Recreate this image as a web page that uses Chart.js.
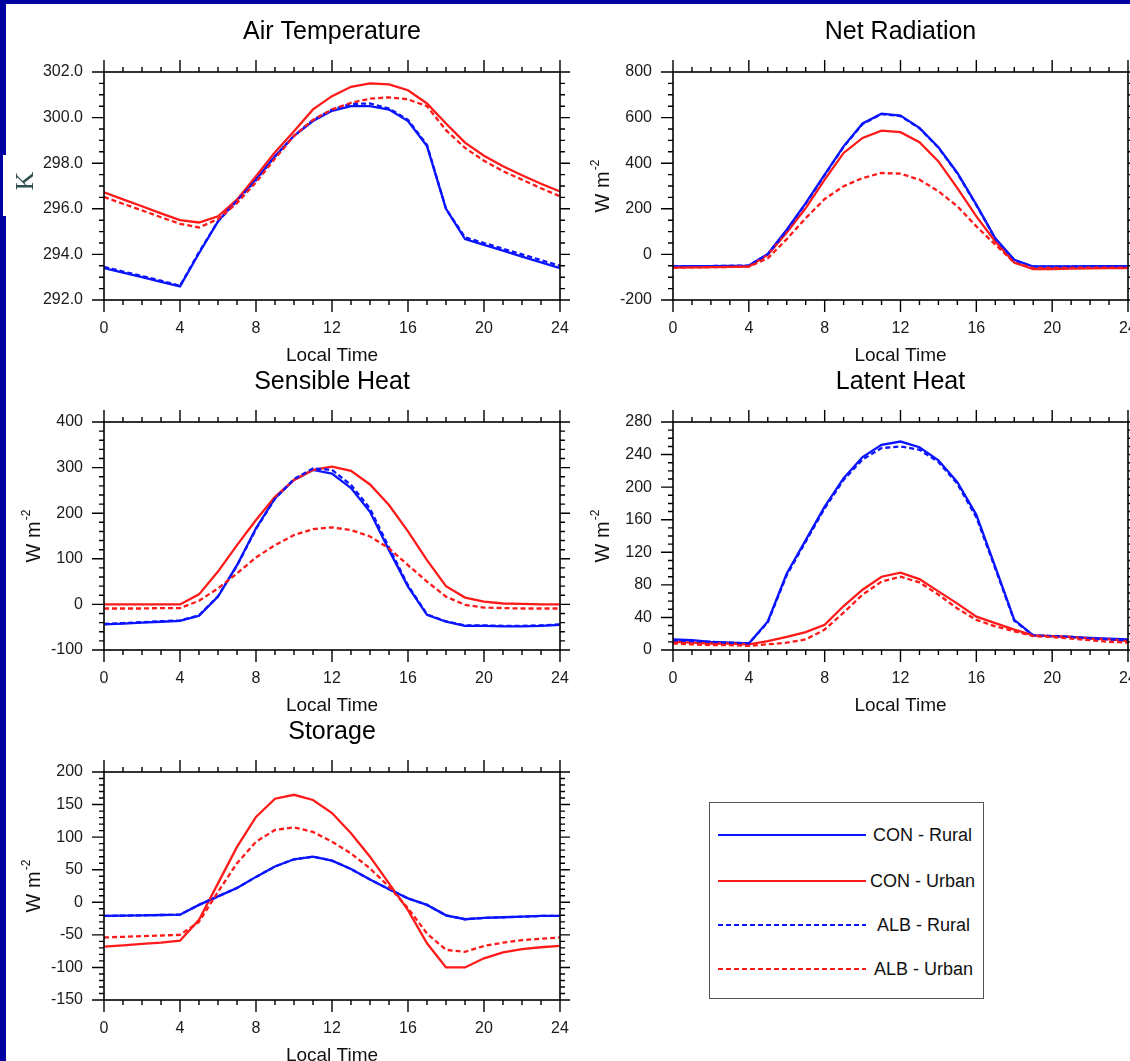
<!DOCTYPE html>
<html>
<head>
<meta charset="utf-8">
<script src="https://cdn.jsdelivr.net/npm/chart.js@4.4.1/dist/chart.umd.min.js"></script>
<style>
  html, body { margin: 0; padding: 0; background: #fff; }
  body { width: 1130px; height: 1061px; overflow: hidden; position: relative; font-family: "Liberation Sans", Arial, sans-serif; }
  canvas { position: absolute; }
  .strip { position: absolute; background: #0000a0; z-index: 5; }
  #kbox { position: absolute; left: 3px; top: 155px; width: 30px; height: 61px; background: #fff; z-index: 6; }
  #klabel { position: absolute; left: 25px; top: 181px; transform: translate(-50%, -50%) rotate(-90deg);
    font-family: "Liberation Serif", "DejaVu Serif", serif; font-size: 26px; color: #2f4f4f; z-index: 7; }
  #legend { position: absolute; left: 709px; top: 802px; width: 275px; height: 197px; border: 1.5px solid #555; box-sizing: border-box; }
  .row { position: absolute; left: 0; height: 20px; }
  .row svg { position: absolute; left: 8px; top: 0; }
  .row span { position: absolute; top: 0; line-height: 20px; font-size: 18px; color: #111; white-space: nowrap; }
</style>
</head>
<body>
<div class="strip" style="left:0;top:0;width:1130px;height:4px"></div>
<div class="strip" style="left:0;top:0;width:6px;height:1061px"></div>
<div id="kbox"></div>
<div id="klabel">K</div>

<canvas id="airChart" style="left:0;top:0" width="570" height="372"></canvas>
<canvas id="netChart" style="left:569px;top:0" width="569" height="372"></canvas>
<canvas id="senChart" style="left:0;top:350px" width="570" height="372"></canvas>
<canvas id="latChart" style="left:569px;top:350px" width="569" height="372"></canvas>
<canvas id="stoChart" style="left:0;top:700px" width="570" height="372"></canvas>

<div id="legend"></div>

<script>
// hours of the day
const hours = [0, 1, 2, 3, 4, 5, 6, 7, 8, 9, 10, 11, 12, 13, 14, 15, 16, 17, 18, 19, 20, 21, 22, 23, 24];

const seriesNames = ["CON - Rural", "CON - Urban", "ALB - Rural", "ALB - Urban"];

// Air Temperature (K)
const airConRural = [293.4, 293.2, 293.0, 292.8, 292.6, 294.05, 295.45, 296.4, 297.3, 298.3, 299.2, 299.85, 300.3, 300.5, 300.5, 300.35, 299.85, 298.75, 296.0, 294.67, 294.42, 294.17, 293.9, 293.65, 293.4];
const airConUrban = [296.72, 296.41, 296.11, 295.8, 295.5, 295.4, 295.67, 296.4, 297.43, 298.48, 299.4, 300.36, 300.94, 301.35, 301.5, 301.46, 301.2, 300.62, 299.74, 298.9, 298.33, 297.87, 297.47, 297.1, 296.76];
const airAlbRural = [293.45, 293.25, 293.05, 292.85, 292.62, 294.1, 295.45, 296.35, 297.25, 298.3, 299.2, 299.9, 300.35, 300.6, 300.62, 300.4, 299.9, 298.8, 296.0, 294.75, 294.5, 294.25, 294.0, 293.75, 293.5];
const airAlbUrban = [296.52, 296.22, 295.93, 295.63, 295.34, 295.18, 295.55, 296.25, 297.16, 298.2, 299.2, 299.9, 300.36, 300.65, 300.83, 300.89, 300.8, 300.5, 299.45, 298.67, 298.11, 297.65, 297.28, 296.9, 296.55];

// Net Radiation (W m-2)
const netConRural = [-53, -52, -51, -50, -49, 2, 108, 225, 350, 474, 574, 617, 609, 555, 470, 357, 218, 71, -24, -53, -53, -53, -52, -52, -51];
const netConUrban = [-58, -57, -56, -55, -53, -2, 96, 203, 328, 445, 511, 543, 536, 492, 408, 291, 167, 57, -36, -65, -64, -62, -61, -60, -60];
const netAlbRural = [-53, -52, -51, -50, -49, 1, 106, 223, 348, 472, 572, 615, 607, 553, 468, 355, 216, 69, -25, -54, -54, -53, -53, -52, -52];
const netAlbUrban = [-58, -57, -56, -55, -53, -17, 67, 159, 243, 299, 335, 357, 354, 328, 277, 211, 123, 43, -36, -60, -59, -59, -58, -58, -58];

// Sensible Heat (W m-2)
const senConRural = [-44, -42, -40, -38, -36, -25, 17, 86, 167, 233, 273, 295, 287, 255, 203, 119, 39, -23, -38, -47, -47, -48, -48, -47, -45];
const senConUrban = [0, 0, 0, 0, 0, 22, 72, 130, 185, 236, 273, 295, 302, 293, 263, 218, 160, 97, 40, 15, 6, 2, 1, 0, 0];
const senAlbRural = [-43, -41, -39, -37, -35, -24, 18, 85, 165, 232, 275, 298, 295, 262, 210, 125, 42, -22, -37, -46, -46, -47, -47, -46, -44];
const senAlbUrban = [-9, -9, -9, -8, -8, 8, 35, 68, 103, 130, 152, 165, 169, 163, 149, 123, 86, 50, 17, -1, -7, -8, -9, -9, -9];

// Latent Heat (W m-2)
const latConRural = [13, 12, 10, 9, 8, 35, 94, 135, 176, 211, 237, 252, 256, 249, 233, 206, 166, 102, 37, 18, 17, 16, 15, 14, 13];
const latConUrban = [10, 9, 8, 8, 7, 11, 16, 22, 31, 54, 74, 90, 95, 87, 72, 57, 41, 33, 25, 18, 17, 16, 14, 13, 11];
const latAlbRural = [12, 11, 10, 9, 8, 34, 92, 133, 174, 209, 234, 248, 250, 246, 231, 204, 163, 100, 36, 18, 17, 16, 14, 13, 12];
const latAlbUrban = [8, 7, 6, 6, 5, 7, 9, 13, 25, 46, 68, 84, 90, 83, 68, 51, 37, 29, 23, 17, 16, 14, 12, 10, 9];

// Storage (W m-2)
const stoConRural = [-21, -20.5, -20, -19.5, -19, -4, 9, 22, 39, 55, 66, 70, 64, 51, 35, 20, 6, -4, -20, -26, -24, -23, -22, -21, -21];
const stoConUrban = [-68, -66, -64, -62, -59, -27, 29, 85, 131, 159, 165, 157, 137, 106, 70, 29, -12, -63, -100, -100, -86, -77, -72, -69, -67];
const stoAlbRural = [-21, -20.5, -20, -19.5, -19, -4, 9, 22, 39, 55, 66, 70, 64, 51, 35, 20, 6, -4, -20, -26, -24, -23, -22, -21, -21];
const stoAlbUrban = [-54, -53, -52, -51, -50, -30, 16, 60, 93, 111, 115, 108, 93, 75, 52, 24, -9, -48, -73, -76, -67, -62, -58, -56, -54];

// axis ranges: [min, max, major step, minor step]
const airRange = [292, 302, 2, 0.5];
const netRange = [-200, 800, 200, 50];
const senRange = [-100, 400, 100, 20];
const latRange = [0, 280, 40, 10];
const stoRange = [-150, 200, 50, 10];

const FONT = '"Liberation Sans", Arial, sans-serif';
const BLUE = "#0a14ff";
const RED = "#ff1a1a";

Chart.defaults.font.family = FONT;
Chart.defaults.animation = false;

// frame, NCL-style outward ticks on all sides, titles
const panelDeco = {
  id: "panelDeco",
  afterDraw(chart, args, opts) {
    const { ctx, chartArea: a, scales } = chart;
    const x = scales.x, y = scales.y;
    ctx.save();
    ctx.strokeStyle = "#000";
    ctx.lineWidth = 1.6;
    ctx.strokeRect(a.left, a.top, a.right - a.left, a.bottom - a.top);

    ctx.lineWidth = 1.4;
    ctx.beginPath();
    for (let h = 0; h <= 24; h++) {
      const px = x.getPixelForValue(h);
      const len = h % 4 === 0 ? 12 : 5;
      ctx.moveTo(px, a.bottom); ctx.lineTo(px, a.bottom + len);
      ctx.moveTo(px, a.top); ctx.lineTo(px, a.top - len);
    }
    const [mn, mx, step, minor] = opts.range;
    const n = Math.round((mx - mn) / minor);
    const per = Math.round(step / minor);
    for (let i = 0; i <= n; i++) {
      const py = y.getPixelForValue(mn + i * minor);
      const len = i % per === 0 ? 12 : 5;
      ctx.moveTo(a.left, py); ctx.lineTo(a.left - len, py);
      ctx.moveTo(a.right, py); ctx.lineTo(a.right + len, py);
    }
    ctx.stroke();

    ctx.fillStyle = "#000";
    ctx.textAlign = "center";
    ctx.textBaseline = "middle";
    const cx = (a.left + a.right) / 2;
    ctx.font = "25px " + FONT;
    ctx.fillText(opts.title, cx, a.top - 40);
    ctx.font = "19px " + FONT;
    ctx.fillStyle = "#111";
    ctx.fillText("Local Time", cx, a.bottom + 56);

    if (opts.units) {
      ctx.translate(a.left - 70, (a.top + a.bottom) / 2);
      ctx.rotate(-Math.PI / 2);
      ctx.font = "20px " + FONT;
      const w1 = ctx.measureText("W m").width;
      ctx.font = "12px " + FONT;
      const w2 = ctx.measureText("-2").width;
      const start = -(w1 + w2 + 1) / 2;
      ctx.textAlign = "left";
      ctx.font = "20px " + FONT;
      ctx.fillText("W m", start, 0);
      ctx.font = "12px " + FONT;
      ctx.fillText("-2", start + w1 + 1, -7);
    }
    ctx.restore();
  },
};

function makeChart(id, title, range, values, units, decimals) {
  const styles = [
    { color: BLUE, dash: [], order: 3 },
    { color: RED, dash: [], order: 2 },
    { color: BLUE, dash: [5, 3], order: 1 },
    { color: RED, dash: [5, 3], order: 0 },
  ];
  return new Chart(document.getElementById(id), {
    type: "line",
    data: {
      datasets: values.map((vals, k) => ({
        label: seriesNames[k],
        data: hours.map((h, i) => ({ x: h, y: vals[i] })),
        borderColor: styles[k].color,
        borderDash: styles[k].dash,
        borderWidth: 2.3,
        pointRadius: 0,
        tension: 0,
        order: styles[k].order,
      })),
    },
    options: {
      responsive: false,
      layout: { padding: { top: 72, left: 0, right: 10, bottom: 0 } },
      plugins: {
        legend: { display: false },
        tooltip: { enabled: false },
        panelDeco: { title: title, range: range, units: units },
      },
      scales: {
        x: {
          type: "linear",
          min: 0,
          max: 24,
          grid: { display: false, drawTicks: false },
          border: { display: false },
          ticks: { stepSize: 4, padding: 19, color: "#1a1a1a", font: { size: 16 }, maxRotation: 0 },
          afterFit(s) { s.height = 72; s.paddingLeft = 0; s.paddingRight = 0; },
        },
        y: {
          min: range[0],
          max: range[1],
          grid: { display: false, drawTicks: false },
          border: { display: false },
          ticks: {
            stepSize: range[2],
            padding: 21,
            color: "#1a1a1a",
            font: { size: 16 },
            callback: (v) => v.toFixed(decimals),
          },
          afterFit(s) { s.width = 104; s.paddingTop = 0; s.paddingBottom = 0; },
        },
      },
    },
    plugins: [panelDeco],
  });
}

makeChart("airChart", "Air Temperature", airRange, [airConRural, airConUrban, airAlbRural, airAlbUrban], false, 1);
makeChart("netChart", "Net Radiation", netRange, [netConRural, netConUrban, netAlbRural, netAlbUrban], true, 0);
makeChart("senChart", "Sensible Heat", senRange, [senConRural, senConUrban, senAlbRural, senAlbUrban], true, 0);
makeChart("latChart", "Latent Heat", latRange, [latConRural, latConUrban, latAlbRural, latAlbUrban], true, 0);
makeChart("stoChart", "Storage", stoRange, [stoConRural, stoConUrban, stoAlbRural, stoAlbUrban], true, 0);

// legend box
const legendRows = [
  { top: 22, color: BLUE, dash: "", textLeft: 163 },
  { top: 68, color: RED, dash: "", textLeft: 160 },
  { top: 112, color: BLUE, dash: "5,3", textLeft: 167 },
  { top: 156, color: RED, dash: "5,3", textLeft: 164 },
];
const legend = document.getElementById("legend");
legendRows.forEach((r, k) => {
  const row = document.createElement("div");
  row.className = "row";
  row.style.top = r.top + "px";
  row.style.width = "270px";
  row.innerHTML =
    '<svg width="150" height="20"><line x1="0" y1="10" x2="148" y2="10" stroke="' + r.color +
    '" stroke-width="2" stroke-dasharray="' + r.dash + '"/></svg>' +
    '<span style="left:' + r.textLeft + 'px">' + seriesNames[k] + "</span>";
  legend.appendChild(row);
});
</script>
</body>
</html>
